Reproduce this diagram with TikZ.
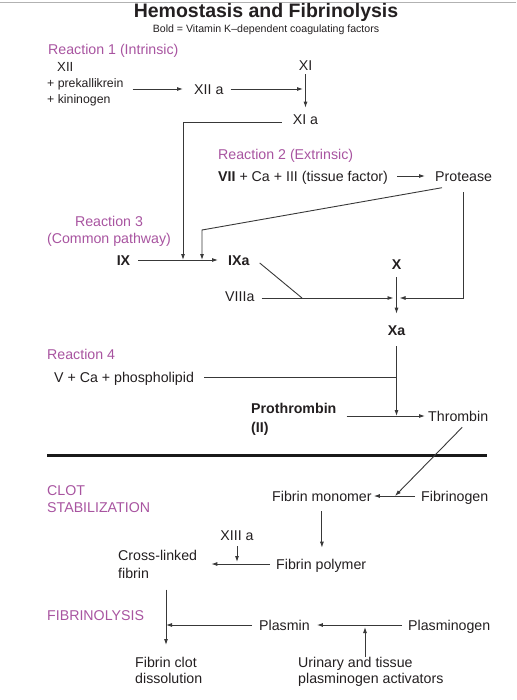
\documentclass[tikz,border=0pt]{standalone}
\usepackage{fontspec}
\setmainfont{Liberation Sans}
\usetikzlibrary{arrows.meta}

\definecolor{rxpurple}{RGB}{168,84,160}
\definecolor{inkgray}{RGB}{35,31,32}

\tikzset{
  lbl/.style={inner sep=0pt, text height=10.2pt, text depth=0pt, text=inkgray,
              font=\fontsize{14.2}{17}\selectfont},
  smalllbl/.style={lbl, text height=8.8pt, font=\fontsize{12.3}{14}\selectfont},
  rxn/.style={lbl, text=rxpurple},
  twoline/.style={inner sep=0pt, align=left, anchor=north west, text=inkgray,
                  font=\fontsize{14.2}{#1}\selectfont},
  twoline/.default=18,
  conn/.style={draw=black!78, line width=.9pt},
  arr/.style={conn, -{Latex[length=6pt,width=4pt]}}
}

\begin{document}
\begin{tikzpicture}[x=1pt, y=-1pt]
             \useasboundingbox (0, 0) rectangle (516, 700);
             \draw[black!30, line width=.8pt] (0, 2) -- (516, 2);

             \node[lbl, font=\fontsize{19.5}{22}\selectfont\bfseries, text height=14pt] (title) at (266, 10.5) {Hemostasis and Fibrinolysis};
             \node[lbl, font=\fontsize{10.6}{12}\selectfont, text height=7.6pt] (subtitle) at (266, 29) {Bold = Vitamin K–dependent coagulating factors};

             \node[rxn, anchor=west] (r1) at (48, 49) {Reaction 1 (Intrinsic)};
             \node[smalllbl, font=\fontsize{13.2}{15}\selectfont, text height=9.4pt, anchor=west] (xii) at (57, 67) {XII};
             \node[smalllbl, anchor=west] (prek) at (47, 83) {+ prekallikrein};
             \node[smalllbl, anchor=west] (kinin) at (47, 99) {+ kininogen};
             \node[lbl, anchor=west] (xiia) at (194, 89) {XII a};
             \node[lbl] (xi) at (305.5, 65) {XI};
             \node[lbl] (xia) at (305.5, 119) {XI a};

             \node[rxn, anchor=west] (r2) at (218, 154) {Reaction 2 (Extrinsic)};
             \node[lbl, anchor=west] (vii) at (218, 176) {\bfseries VII\mdseries{} + Ca + III (tissue factor)};
             \node[lbl, anchor=west] (prot) at (435, 176) {Protease};

             \node[twoline=17, align=center, anchor=north, text=rxpurple] (r3) at (109, 215.9) {Reaction 3\\(Common pathway)};
             \node[lbl] (ix) at (123.5, 260) {\bfseries IX};
             \node[lbl, anchor=west] (ixa) at (228, 260) {\bfseries IXa};
             \node[lbl, anchor=west] (viiia) at (225, 296) {VIIIa};
             \node[lbl] (fx) at (396.5, 264) {\bfseries X};
             \node[lbl] (fxa) at (396.5, 330) {\bfseries Xa};

             \node[rxn, anchor=west] (r4) at (47, 354) {Reaction 4};
             \node[lbl, anchor=west] (vca) at (54, 377) {V + Ca + phospholipid};
             \node[twoline=19, font=\fontsize{14.2}{19}\selectfont\bfseries] (proth) at (251, 402.9) {Prothrombin\\(II)};
             \node[lbl, anchor=west] (thr) at (428, 416) {Thrombin};

             \node[twoline=17, text=rxpurple] (clot) at (47, 484.9) {CLOT\\STABILIZATION};
             \node[lbl, anchor=west] (mono) at (272, 496) {Fibrin monomer};
             \node[lbl, anchor=west] (fibg) at (421, 496) {Fibrinogen};
             \node[lbl] (xiii) at (237, 535) {XIII a};
             \node[lbl, anchor=west] (poly) at (276, 564) {Fibrin polymer};
             \node[twoline=18] (cross) at (118, 549.9) {Cross-linked\\fibrin};

             \node[rxn, anchor=west] (fibl) at (47, 615) {FIBRINOLYSIS};
             \node[lbl, anchor=west] (plas) at (259, 625) {Plasmin};
             \node[lbl, anchor=west] (plgn) at (408, 625) {Plasminogen};
             \node[twoline=16] (dissol) at (135, 657) {Fibrin clot\\dissolution};
             \node[twoline=16] (activ) at (298, 657) {Urinary and tissue\\plasminogen activators};

             \coordinate (j1) at (183, 260);
             \coordinate (j2) at (202, 260);
             \coordinate (bend) at (202, 230);
             \coordinate (j4) at (302, 298);
             \coordinate (j8) at (237, 564);
             \coordinate (j9) at (166, 625);
             \coordinate (j10) at (365, 625);
             \coordinate (j11) at (395, 496);

             \draw[arr, shorten <=9pt, shorten >=11pt] (prek.east |- xiia.west) -- (xiia.west);
             \draw[arr, shorten <=7pt, shorten >=2.5pt] (xiia.east) -- (xi |- xiia.east);
             \draw[arr, shorten <=4pt, shorten >=6pt] (xi) -- (xia);
             \draw[arr] (xia.west) ++(-11, 3.5) -| (j1);

             \draw[arr, shorten <=9pt, shorten >=10pt] (vii.east) -- (prot.west);
             \draw[arr] (prot.south west) ++(7, 6.4) -- (bend) -- (j2);
             \draw[arr, shorten >=3pt] (prot.south) ++(0, 11) |- (fx |- j4);

             \draw[arr, shorten <=8pt, shorten >=10pt] (ix) -- (ixa);
             \draw[conn] (ixa.east) ++(10, 3) -- (j4);
             \draw[arr, shorten <=7pt, shorten >=3pt] (viiia.east |- j4) -- (fx |- j4);
             \draw[arr, shorten <=8pt, shorten >=11pt] (fx) -- (fxa);

             \draw[conn] (vca.east) ++(10, 0) -- (fxa |- vca);
             \draw[arr, shorten <=11pt] (fxa) -- (fxa |- thr);
             \draw[arr, shorten <=10pt, shorten >=3pt] (proth.east |- thr) -- (thr.west);

             \draw[line width=3pt, black!90] (47, 455) -- (487, 455);

             \draw[arr] (thr.south) ++(4, 6) -- (j11);
             \draw[arr, shorten <=6pt, shorten >=2pt] (fibg.west) -- (mono.east);
             \draw[arr, shorten <=10pt, shorten >=11pt] (mono.south) -- (mono.south |- poly.north);
             \draw[arr, shorten <=6pt, shorten >=14pt] (poly.west) -- (cross.east |- poly.west);
             \draw[arr, shorten <=6pt, shorten >=2pt] (xiii) -- (j8);

             \draw[arr, shorten >=12pt] (j9 |- cross.south) ++(0, 11) -- (j9 |- dissol.north);
             \draw[arr, shorten <=7pt] (plas.west) -- (j9);
             \draw[arr, shorten <=6pt, shorten >=7pt] (plgn.west) -- (plas.east);
             \draw[arr, shorten >=2pt] (j10 |- activ.north) -- (j10);
\end{tikzpicture}
\end{document}
